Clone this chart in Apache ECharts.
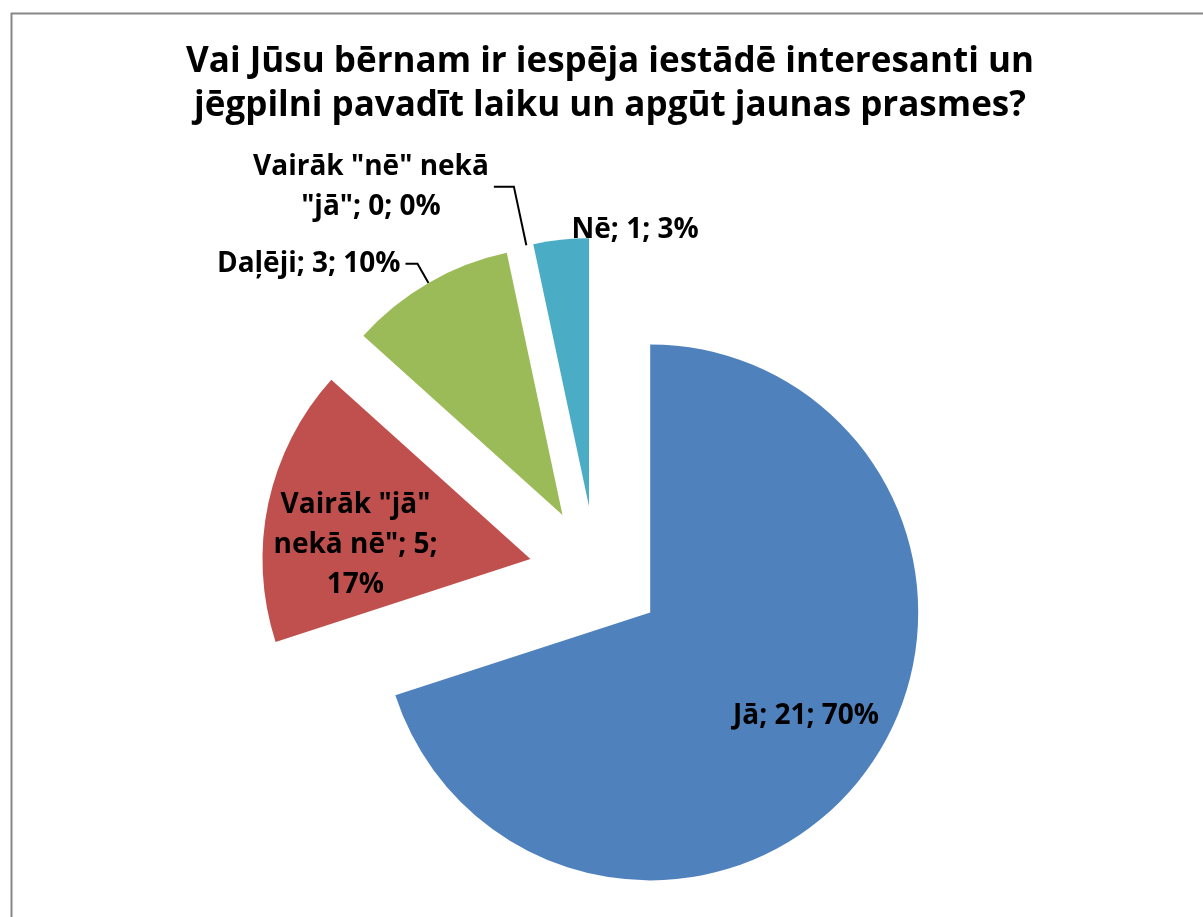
<!DOCTYPE html>
<html>
<head>
<meta charset="utf-8">
<script src="https://cdn.jsdelivr.net/npm/echarts@6/dist/echarts.min.js"></script>
<style>
  html, body { margin: 0; padding: 0; background: #fff; }
  #chart { width: 1203px; height: 917px; }
</style>
</head>
<body>
<div id="chart"></div>
<script>
var titleText = 'Vai Jūsu bērnam ir iespēja iestādē interesanti un\njēgpilni pavadīt laiku un apgūt jaunas prasmes?';
var categories = ['Jā', 'Vairāk "jā" nekā nē"', 'Daļēji', 'Vairāk "nē" nekā "jā"', 'Nē'];
var counts = [21, 5, 3, 0, 1];
var colors = ['#4F81BD', '#C0504D', '#9BBB59', '#8064A2', '#4BACC6'];

var FONT = 'Open Sans';

// each line centred inside its label block, like the original
function labelText(p) {
  var s = p.name + '; ' + p.value + '; ' + p.percent + '%';
  if (p.dataIndex === 1) {
    s = s.replace('"jā" ', '"jā"\n').replace('5; ', '5;\n');
  } else if (p.dataIndex === 3) {
    s = s.replace('nekā "jā"', 'nekā\n"jā"');
  }
  return s.split('\n').map(function (l) { return '{c|' + l + '}'; }).join('\n');
}

var itemLabels = [
  { position: 'inside' },
  { position: 'inside' },
  { position: 'outside' },
  { position: 'outside' },
  { position: 'outside' }
];
var itemLines = [
  { show: false },
  { show: false },
  { show: true, length: 22, length2: 12 },
  { show: true, length: 60, length2: 20 },
  { show: false, length: 4, length2: 0 }
];
// small nudges of the label text, in px
var labelNudge = [[45, 23], [-41, 14], [0, 0], [0, 0], [16, -6]];

var pieData = [];
for (var i = 0; i < categories.length; i++) {
  pieData.push({
    name: categories[i],
    value: counts[i],
    selected: true,
    itemStyle: { color: colors[i] },
    label: itemLabels[i],
    labelLine: itemLines[i]
  });
}

var chart = echarts.init(document.getElementById('chart'));
chart.setOption({
  animation: false,
  backgroundColor: '#fff',
  title: {
    text: titleText,
    left: 605,
    top: 35,
    textAlign: 'center',
    textStyle: {
      fontFamily: FONT,
      fontWeight: 'bold',
      fontSize: 35,
      lineHeight: 44,
      color: '#000'
    }
  },
  graphic: [{
    type: 'rect',
    left: 9,
    top: 11,
    shape: { width: 1300, height: 1000 },
    style: { fill: 'none', stroke: '#888', lineWidth: 2 },
    silent: true
  }],
  series: [{
    type: 'pie',
    center: [596, 573],
    radius: [0, 268],
    startAngle: 90,
    clockwise: true,
    selectedMode: 'multiple',
    selectedOffset: 67,
    percentPrecision: 0,
    minShowLabelAngle: 0,
    avoidLabelOverlap: false,
    emphasis: { disabled: true },
    label: {
      formatter: labelText,
      color: '#000',
      rich: {
        c: {
          fontFamily: FONT,
          fontWeight: 'bold',
          fontSize: 28,
          lineHeight: 40,
          color: '#000',
          align: 'center'
        }
      }
    },
    labelLine: {
      lineStyle: { color: '#000', width: 2 },
      smooth: false
    },
    labelLayout: function (params) {
      var n = labelNudge[params.dataIndex];
      if (params.dataIndex === 4) {
        return { align: 'left', dx: n[0], dy: n[1] };
      }
      return { dx: n[0], dy: n[1] };
    },
    data: pieData
  }]
});
</script>
</body>
</html>
